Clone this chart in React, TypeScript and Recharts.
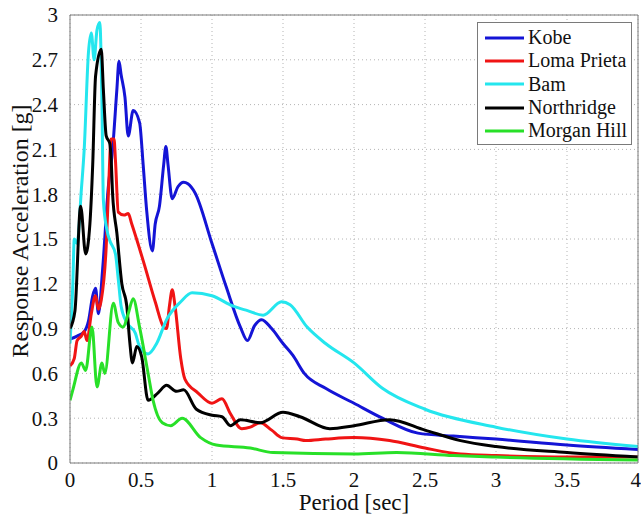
import { LineChart, Line, XAxis, YAxis, CartesianGrid, Legend } from 'recharts';

// period [sec], response acceleration [g]
const kobe: [number, number][] = [
  [0, 0.83], [0.05, 0.85], [0.1, 0.88], [0.13, 0.95], [0.16, 1.12], [0.18, 1.17], [0.2, 1.0],
  [0.23, 1.3], [0.27, 1.85], [0.3, 2.1], [0.33, 2.5], [0.345, 2.69], [0.36, 2.6], [0.387, 2.45],
  [0.41, 2.19], [0.445, 2.36], [0.49, 2.28], [0.515, 2.0], [0.54, 1.69], [0.58, 1.42], [0.6, 1.6],
  [0.63, 1.72], [0.66, 2.0], [0.675, 2.12], [0.69, 2.0], [0.72, 1.77], [0.76, 1.85], [0.8, 1.88],
  [0.83, 1.87], [0.88, 1.81], [1.0, 1.47], [1.1, 1.18], [1.2, 0.91], [1.25, 0.82], [1.3, 0.92],
  [1.35, 0.96], [1.42, 0.9], [1.5, 0.8], [1.57, 0.72], [1.65, 0.6], [1.8, 0.5], [2.0, 0.4],
  [2.2, 0.3], [2.45, 0.2], [2.7, 0.18], [3.0, 0.16], [3.5, 0.12], [4.0, 0.09],
];

const lomaPrieta: [number, number][] = [
  [0, 0.65], [0.03, 0.7], [0.05, 0.82], [0.08, 0.85], [0.1, 0.88], [0.12, 0.82], [0.15, 1.0],
  [0.18, 1.12], [0.2, 1.03], [0.22, 1.09], [0.255, 1.45], [0.27, 1.8], [0.29, 2.17], [0.31, 2.17],
  [0.32, 2.03], [0.34, 1.68], [0.38, 1.66], [0.41, 1.67], [0.435, 1.6], [0.52, 1.34], [0.6, 1.08],
  [0.66, 0.91], [0.68, 0.9], [0.7, 1.05], [0.72, 1.16], [0.74, 1.05], [0.78, 0.7], [0.81, 0.56],
  [0.9, 0.47], [1.0, 0.4], [1.07, 0.43], [1.13, 0.33], [1.21, 0.23], [1.27, 0.24], [1.34, 0.27],
  [1.42, 0.22], [1.49, 0.17], [1.6, 0.16], [1.66, 0.15], [1.8, 0.16], [2.0, 0.17], [2.25, 0.15],
  [2.5, 0.1], [2.75, 0.06], [3.0, 0.05], [3.5, 0.04], [4.0, 0.04],
];

const bam: [number, number][] = [
  [0, 0.8], [0.02, 1.2], [0.03, 1.5], [0.05, 1.47], [0.08, 1.83], [0.1, 2.1], [0.13, 2.75],
  [0.15, 2.88], [0.17, 2.7], [0.19, 2.9], [0.21, 2.95], [0.225, 2.4], [0.235, 1.76], [0.26, 1.56],
  [0.28, 1.49], [0.32, 1.4], [0.34, 1.23], [0.36, 1.05], [0.4, 0.94], [0.46, 0.87], [0.49, 0.78],
  [0.55, 0.73], [0.61, 0.8], [0.68, 0.96], [0.78, 1.08], [0.86, 1.14], [1.0, 1.12], [1.15, 1.05],
  [1.25, 1.02], [1.36, 0.99], [1.49, 1.08], [1.55, 1.06], [1.67, 0.91], [1.8, 0.8], [2.0, 0.67],
  [2.2, 0.5], [2.5, 0.36], [3.0, 0.24], [3.5, 0.16], [4.0, 0.11],
];

const northridge: [number, number][] = [
  [0, 0.9], [0.035, 1.02], [0.075, 1.72], [0.11, 1.4], [0.14, 1.6], [0.16, 2.0], [0.18, 2.59],
  [0.22, 2.77], [0.235, 2.5], [0.255, 2.19], [0.28, 2.14], [0.29, 2.03], [0.3, 1.8], [0.33, 1.54],
  [0.365, 1.2], [0.4, 1.05], [0.42, 0.82], [0.44, 0.67], [0.47, 0.78], [0.505, 0.71], [0.55, 0.42],
  [0.62, 0.47], [0.68, 0.52], [0.75, 0.48], [0.8, 0.49], [0.89, 0.36], [1.0, 0.32], [1.07, 0.31],
  [1.13, 0.25], [1.2, 0.29], [1.34, 0.27], [1.5, 0.34], [1.62, 0.31], [1.83, 0.23], [2.0, 0.25],
  [2.25, 0.29], [2.5, 0.22], [2.75, 0.15], [3.0, 0.11], [3.5, 0.07], [4.0, 0.04],
];

const morganHill: [number, number][] = [
  [0, 0.42], [0.02, 0.49], [0.08, 0.67], [0.11, 0.62], [0.155, 0.91], [0.19, 0.51], [0.225, 0.67],
  [0.245, 0.6], [0.305, 1.07], [0.34, 0.94], [0.375, 0.91], [0.41, 1.0], [0.445, 1.1], [0.49, 0.91],
  [0.55, 0.6], [0.585, 0.42], [0.65, 0.27], [0.71, 0.25], [0.79, 0.3], [0.92, 0.17], [1.03, 0.12],
  [1.27, 0.1], [1.43, 0.07], [2.0, 0.06], [2.3, 0.07], [2.7, 0.05], [3.0, 0.04], [4.0, 0.02],
];

const xTicks = [0, 0.5, 1, 1.5, 2, 2.5, 3, 3.5, 4];
const yTicks = [0, 0.3, 0.6, 0.9, 1.2, 1.5, 1.8, 2.1, 2.4, 2.7, 3];

const series = [
  { name: 'Kobe', points: kobe, color: '#1414d6' },
  { name: 'Loma Prieta', points: lomaPrieta, color: '#f01414' },
  { name: 'Bam', points: bam, color: '#24e6ee' },
  { name: 'Northridge', points: northridge, color: '#000000' },
  { name: 'Morgan Hill', points: morganHill, color: '#28e028' },
];

const FONT = 'Liberation Serif, Times New Roman, Times, DejaVu Serif, serif';
const AXIS = '#7a7a7a';

function EventLegend() {
  return (
    <div
      style={{
        border: `1px solid ${AXIS}`,
        background: '#fff',
        padding: '3px 4px 2px 7px',
        fontFamily: FONT,
        fontSize: 20,
        color: '#111',
      }}
    >
      {series.map((s) => (
        <div key={s.name} style={{ display: 'flex', alignItems: 'center', height: 23.3 }}>
          <svg width={39} height={6} style={{ marginRight: 4 }}>
            <line x1={0} y1={3} x2={39} y2={3} stroke={s.color} strokeWidth={3} />
          </svg>
          <span style={{ whiteSpace: 'nowrap' }}>{s.name}</span>
        </div>
      ))}
    </div>
  );
}

export default function App() {
  return (
    <div style={{ fontFamily: FONT }}>
      <style>{'body{margin:0}'}</style>
      <LineChart
        width={641}
        height={515}
        margin={{ top: 15, right: 3, bottom: 0, left: 0 }}
        style={{ fontFamily: FONT }}
      >
        <CartesianGrid
          xAxisId="x"
          yAxisId="y"
          stroke="#b4b4b4"
          strokeDasharray="1 3"
          horizontalValues={yTicks}
          verticalValues={xTicks}
        />
        <XAxis
          xAxisId="x"
          dataKey="t"
          type="number"
          domain={[0, 4]}
          allowDataOverflow
          ticks={xTicks}
          height={52}
          tickLine={false}
          tickMargin={3}
          axisLine={{ stroke: AXIS }}
          tick={{ fill: '#111', fontSize: 21, fontFamily: FONT }}
          label={{
            content: (props: any) => {
              const vb = props.viewBox || { x: 70, width: 568 };
              return (
                <text
                  x={vb.x + vb.width / 2}
                  y={510}
                  textAnchor="middle"
                  fill="#111"
                  fontSize={23}
                  fontFamily={FONT}
                >
                  Period [sec]
                </text>
              );
            },
          }}
        />
        {/* inward tick marks, MATLAB style */}
        <XAxis xAxisId="xb" type="number" domain={[0, 4]} allowDataOverflow ticks={xTicks} mirror tick={false} axisLine={false} tickSize={6} tickLine={{ stroke: AXIS }} />
        <XAxis xAxisId="xt" orientation="top" type="number" domain={[0, 4]} allowDataOverflow ticks={xTicks} mirror tick={false} axisLine={{ stroke: AXIS }} tickSize={6} tickLine={{ stroke: AXIS }} />
        <YAxis
          yAxisId="y"
          type="number"
          domain={[0, 3]}
          allowDataOverflow
          ticks={yTicks}
          width={70}
          tickLine={false}
          tickMargin={6}
          axisLine={{ stroke: AXIS }}
          tick={{ fill: '#111', fontSize: 21, fontFamily: FONT }}
          label={{
            content: (props: any) => {
              const vb = props.viewBox || { x: 0, y: 15, height: 448 };
              const cx = vb.x + 20;
              const cy = vb.y + vb.height / 2 - 8;
              return (
                <text
                  x={cx}
                  y={cy}
                  transform={`rotate(-90 ${cx} ${cy})`}
                  textAnchor="middle"
                  dominantBaseline="central"
                  fill="#111"
                  fontSize={24}
                  fontFamily={FONT}
                >
                  Response Acceleration [g]
                </text>
              );
            },
          }}
        />
        <YAxis yAxisId="yl" type="number" domain={[0, 3]} allowDataOverflow ticks={yTicks} mirror tick={false} axisLine={false} tickSize={6} tickLine={{ stroke: AXIS }} />
        <YAxis yAxisId="yr" orientation="right" type="number" domain={[0, 3]} allowDataOverflow ticks={yTicks} mirror tick={false} axisLine={{ stroke: AXIS }} tickSize={6} tickLine={{ stroke: AXIS }} />
        <Legend
          layout="horizontal"
          align="center"
          verticalAlign="middle"
          content={() => <EventLegend />}
          wrapperStyle={{ left: 477, top: 22, width: 155, height: 'auto' }}
        />
        {series.map((s) => (
          <Line
            key={s.name}
            xAxisId="x"
            yAxisId="y"
            data={s.points.map(([t, v]) => ({ t, v }))}
            dataKey="v"
            name={s.name}
            type="monotone"
            stroke={s.color}
            strokeWidth={3}
            dot={false}
            isAnimationActive={false}
          />
        ))}
      </LineChart>
    </div>
  );
}
